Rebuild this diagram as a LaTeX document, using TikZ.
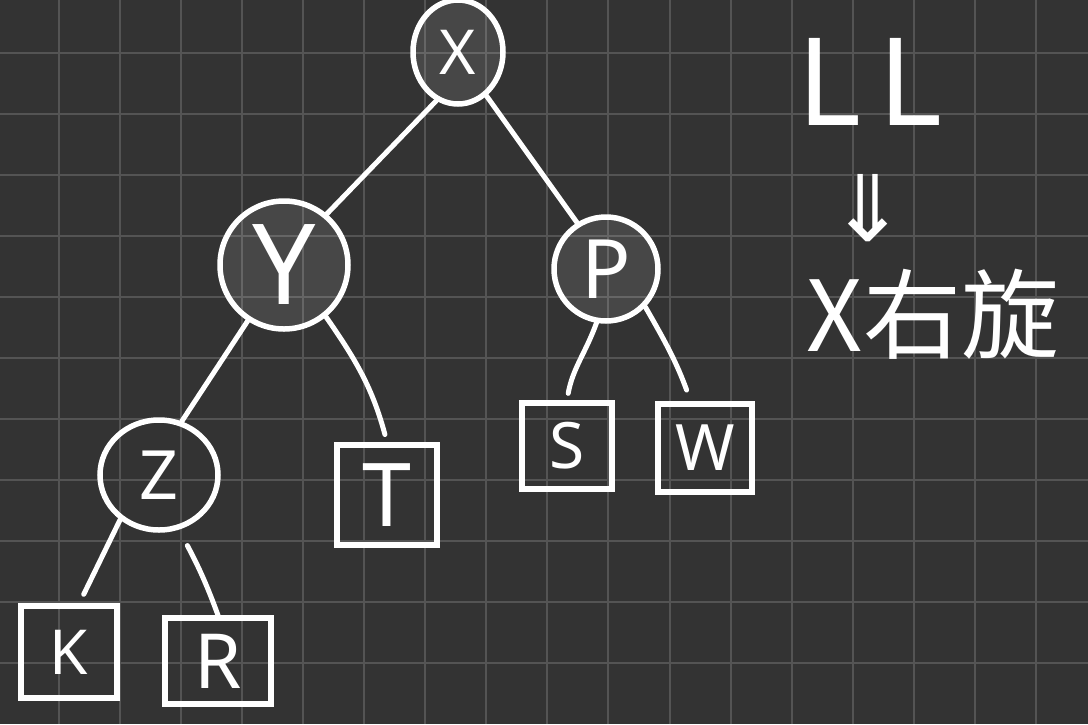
\documentclass[tikz,border=0pt]{standalone}
\usepackage{fontspec}
\setmainfont{Noto Sans}
\newfontfamily\cjk{Noto Sans CJK SC}
\newfontfamily\symf{DejaVu Sans}
\usetikzlibrary{shapes.geometric}
\definecolor{bgc}{HTML}{333333}
\definecolor{gridc}{HTML}{545454}
\tikzset{
  gridline/.style={draw=gridc, line width=2pt},
  edge/.style={draw=white, line width=5pt, line cap=round},
  inner/.style={draw=white, line width=5.5pt, fill=white, fill opacity=0.1, text opacity=1, text=white, inner sep=0pt},
  circ/.style={inner, circle},
  oval/.style={inner, ellipse},
  ring/.style={draw=white, line width=5.5pt, ellipse, text=white, inner sep=0pt},
  leaf/.style={draw=white, line width=5.5pt, rectangle, text=white, inner sep=0pt},
  fs/.style={font=\fontsize{#1}{#1}\selectfont}
}
\begin{document}
\begin{tikzpicture}[x=1pt, y=-1pt]
\fill[bgc] (0,0) rectangle (1088,724);
\useasboundingbox (0,0) rectangle (1088,724);
\foreach \i in {0,...,16} {\draw[gridline] ({58.7+61.08*\i},0) -- ({58.7+61.08*\i},724);}
\foreach \j in {0,...,10} {\draw[gridline] (0,{52.7+61.06*\j}) -- (1088,{52.7+61.06*\j});}

% tree nodes
\node[oval, minimum width=90pt, minimum height=104pt, fs=62] (X) at (458,52) {X};
\node[circ, minimum size=128pt, fs=112] (Y) at (284,265) {Y};
\node[circ, minimum size=104pt, fs=82] (P) at (606,269) {P};
\node[ring, minimum width=118pt, minimum height=110pt, fs=68] (Z) at (159,475) {Z};
\node[leaf, minimum width=96pt, minimum height=92pt, fs=62] (K) at (69,652) {K};
\node[leaf, minimum width=106pt, minimum height=86pt, fs=76] (R) at (218,661) {R};
\node[leaf, minimum width=100pt, minimum height=100pt, fs=88] (T) at (387,495) {T};
\node[leaf, minimum width=90pt, minimum height=86pt, fs=64] (S) at (567,446) {S};
\node[leaf, minimum width=94pt, minimum height=88pt, fs=64] (W) at (705,448) {W};

% connectors
\draw[edge] (X.246) -- (Y.50);
\draw[edge] (X.303) -- (P.122);
\draw[edge] (Y.237) -- (Z.67);
\draw[edge, shorten >=8pt] (Y.309) to[out=-55, in=105] (T.north);
\draw[edge, shorten >=7pt] (P.260) to[out=-110, in=80] (S.north);
\draw[edge, shorten >=12pt] (P.316) to[out=-60, in=110] (W.107);
\draw[edge, shorten >=10pt] (Z.229) -- (K.78);
\draw[edge, shorten <=18pt] (Z.-70) to[out=-62, in=110] (R.north);

% annotation
\node[text=white, inner sep=0pt, font=\fontsize{122}{122}\selectfont] (ll) at (870,82) {L\hspace{18pt}L};
\node[text=white, inner sep=0pt, font=\symf\fontsize{92}{92}\selectfont] (arr) at (868,208) {⇓};
\node[text=white, inner sep=0pt, font=\cjk\fontsize{98}{98}\selectfont] (rot) at (933,314) {X右旋};
\end{tikzpicture}
\end{document}
